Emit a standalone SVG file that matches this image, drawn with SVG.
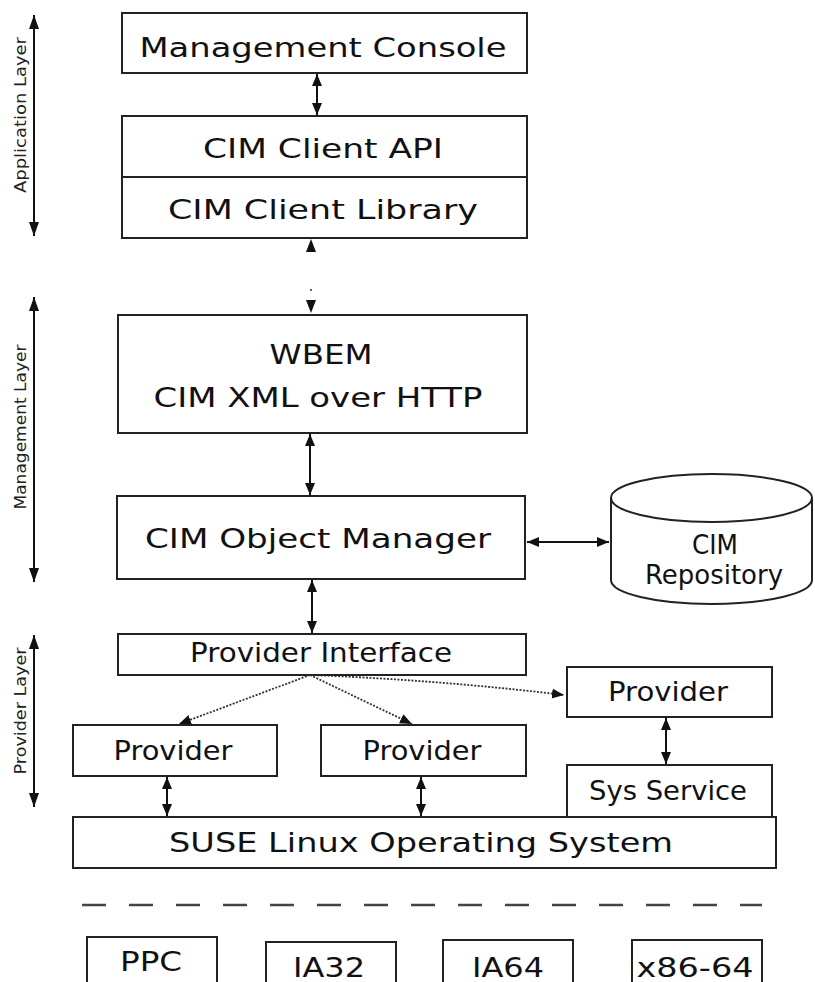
<svg xmlns="http://www.w3.org/2000/svg" width="815" height="982" viewBox="0 0 815 982">
<style>
.box{fill:#fff;stroke:#222;stroke-width:2}
.t{font-family:"DejaVu Sans","Liberation Sans",sans-serif;fill:#111;text-anchor:middle;font-size:27px}
.lay{font-family:"DejaVu Sans","Liberation Sans",sans-serif;fill:#222;text-anchor:middle;font-size:15px}
.c{stroke:#111;stroke-width:2;fill:none}
.d{stroke:#333;stroke-width:1.8;fill:none;stroke-dasharray:2 1.5}
.dash{stroke:#444;stroke-width:2.5;fill:none;stroke-dasharray:24 23}
</style>
<defs>
<marker id="ah" viewBox="0 0 12 10" refX="12" refY="5" markerWidth="12" markerHeight="10" markerUnits="userSpaceOnUse" orient="auto-start-reverse"><path d="M0,0 L12,5 L0,10 z" fill="#111"/></marker>
<marker id="al" viewBox="0 0 14 10" refX="14" refY="5" markerWidth="14" markerHeight="10" markerUnits="userSpaceOnUse" orient="auto-start-reverse"><path d="M0,0 L14,5 L0,10 z" fill="#111"/></marker>
</defs>
<rect width="815" height="982" fill="#fff"/>

<g id="layers">
<line class="c" x1="34" y1="15" x2="34" y2="236" marker-start="url(#al)" marker-end="url(#al)"/>
<text class="lay" transform="translate(26,115) rotate(-90)" textLength="156" lengthAdjust="spacingAndGlyphs">Application Layer</text>
<line class="c" x1="34" y1="297" x2="34" y2="582" marker-start="url(#al)" marker-end="url(#al)"/>
<text class="lay" transform="translate(26,427) rotate(-90)" textLength="165" lengthAdjust="spacingAndGlyphs">Management Layer</text>
<line class="c" x1="34" y1="635" x2="34" y2="807" marker-start="url(#al)" marker-end="url(#al)"/>
<text class="lay" transform="translate(26,711) rotate(-90)" textLength="127" lengthAdjust="spacingAndGlyphs">Provider Layer</text>
</g>

<g id="connectors">
<line class="c" x1="317" y1="74" x2="317" y2="115" marker-start="url(#ah)" marker-end="url(#ah)"/>
<polygon points="311,239 316,252 306,252" fill="#111"/>
<circle cx="311" cy="290" r="1" fill="#333"/>
<polygon points="311,313 316,300 306,300" fill="#111"/>
<line class="c" x1="310" y1="434" x2="310" y2="495" marker-start="url(#ah)" marker-end="url(#ah)"/>
<line class="c" x1="527" y1="542" x2="609" y2="542" marker-start="url(#ah)" marker-end="url(#ah)"/>
<line class="c" x1="312" y1="580" x2="312" y2="633" marker-start="url(#ah)" marker-end="url(#ah)"/>
<line class="d" x1="310" y1="675" x2="179" y2="724" marker-end="url(#ah)"/>
<line class="d" x1="310" y1="675" x2="412" y2="724" marker-end="url(#ah)"/>
<path class="d" d="M310,675 Q440,680 564,695" marker-end="url(#ah)"/>
<line class="c" x1="167" y1="777" x2="167" y2="816" marker-start="url(#ah)" marker-end="url(#ah)"/>
<line class="c" x1="421" y1="777" x2="421" y2="816" marker-start="url(#ah)" marker-end="url(#ah)"/>
<line class="c" x1="666" y1="718" x2="666" y2="764" marker-start="url(#ah)" marker-end="url(#ah)"/>
</g>

<g id="mgmt-console">
<rect class="box" x="122" y="13" width="405" height="60"/>
<text class="t" x="323" y="57" font-size="32" textLength="367" lengthAdjust="spacingAndGlyphs">Management Console</text>
</g>
<g id="cim-client">
<rect class="box" x="122" y="116" width="405" height="122"/>
<line x1="122" y1="177" x2="527" y2="177" stroke="#222" stroke-width="2"/>
<text class="t" x="323" y="158" font-size="31" textLength="240" lengthAdjust="spacingAndGlyphs">CIM Client API</text>
<text class="t" x="323" y="219" font-size="31" textLength="310" lengthAdjust="spacingAndGlyphs">CIM Client Library</text>
</g>
<g id="wbem">
<rect class="box" x="118" y="315" width="409" height="118"/>
<text class="t" x="321" y="364" font-size="30" textLength="103" lengthAdjust="spacingAndGlyphs">WBEM</text>
<text class="t" x="318" y="407" font-size="28" textLength="329" lengthAdjust="spacingAndGlyphs">CIM XML over HTTP</text>
</g>
<g id="cimom">
<rect class="box" x="117" y="496" width="408" height="83"/>
<text class="t" x="318" y="548" font-size="29" textLength="346" lengthAdjust="spacingAndGlyphs">CIM Object Manager</text>
</g>
<g id="repository">
<path class="box" d="M611,498 L611,580 A100.5,24 0 0 0 812,580 L812,498"/>
<ellipse class="box" cx="711.5" cy="498" rx="100.5" ry="24"/>
<text class="t" x="715" y="554" font-size="25" textLength="46" lengthAdjust="spacingAndGlyphs">CIM</text>
<text class="t" x="714" y="584" font-size="25" textLength="138" lengthAdjust="spacingAndGlyphs">Repository</text>
</g>
<g id="provider-interface">
<rect class="box" x="118" y="634" width="408" height="41"/>
<text class="t" x="321" y="662" font-size="26" textLength="262" lengthAdjust="spacingAndGlyphs">Provider Interface</text>
</g>
<g id="provider-right">
<rect class="box" x="567" y="667" width="205" height="50"/>
<text class="t" x="668" y="701" font-size="25" textLength="120" lengthAdjust="spacingAndGlyphs">Provider</text>
</g>
<g id="provider-left">
<rect class="box" x="73" y="725" width="204" height="51"/>
<text class="t" x="173" y="760" font-size="25" textLength="119" lengthAdjust="spacingAndGlyphs">Provider</text>
</g>
<g id="provider-mid">
<rect class="box" x="321" y="725" width="205" height="51"/>
<text class="t" x="422" y="760" font-size="25" textLength="119" lengthAdjust="spacingAndGlyphs">Provider</text>
</g>
<g id="sys-service">
<rect class="box" x="567" y="765" width="205" height="52"/>
<text class="t" x="668" y="800" font-size="25" textLength="158" lengthAdjust="spacingAndGlyphs">Sys Service</text>
</g>
<g id="suse">
<rect class="box" x="73" y="817" width="703" height="51"/>
<text class="t" x="421" y="852" font-size="29" textLength="504" lengthAdjust="spacingAndGlyphs">SUSE Linux Operating System</text>
</g>

<line class="dash" x1="82" y1="905" x2="762" y2="905"/>

<g id="ppc">
<rect class="box" x="87" y="937" width="130" height="60"/>
<text class="t" x="151" y="971" font-size="31" textLength="62" lengthAdjust="spacingAndGlyphs">PPC</text>
</g>
<g id="ia32">
<rect class="box" x="266" y="942" width="130" height="60"/>
<text class="t" x="329" y="977" font-size="31" textLength="72" lengthAdjust="spacingAndGlyphs">IA32</text>
</g>
<g id="ia64">
<rect class="box" x="443" y="940" width="130" height="60"/>
<text class="t" x="508" y="977" font-size="31" textLength="72" lengthAdjust="spacingAndGlyphs">IA64</text>
</g>
<g id="x86-64">
<rect class="box" x="632" y="940" width="130" height="60"/>
<text class="t" x="695" y="977" font-size="31" textLength="117" lengthAdjust="spacingAndGlyphs">x86-64</text>
</g>
</svg>
